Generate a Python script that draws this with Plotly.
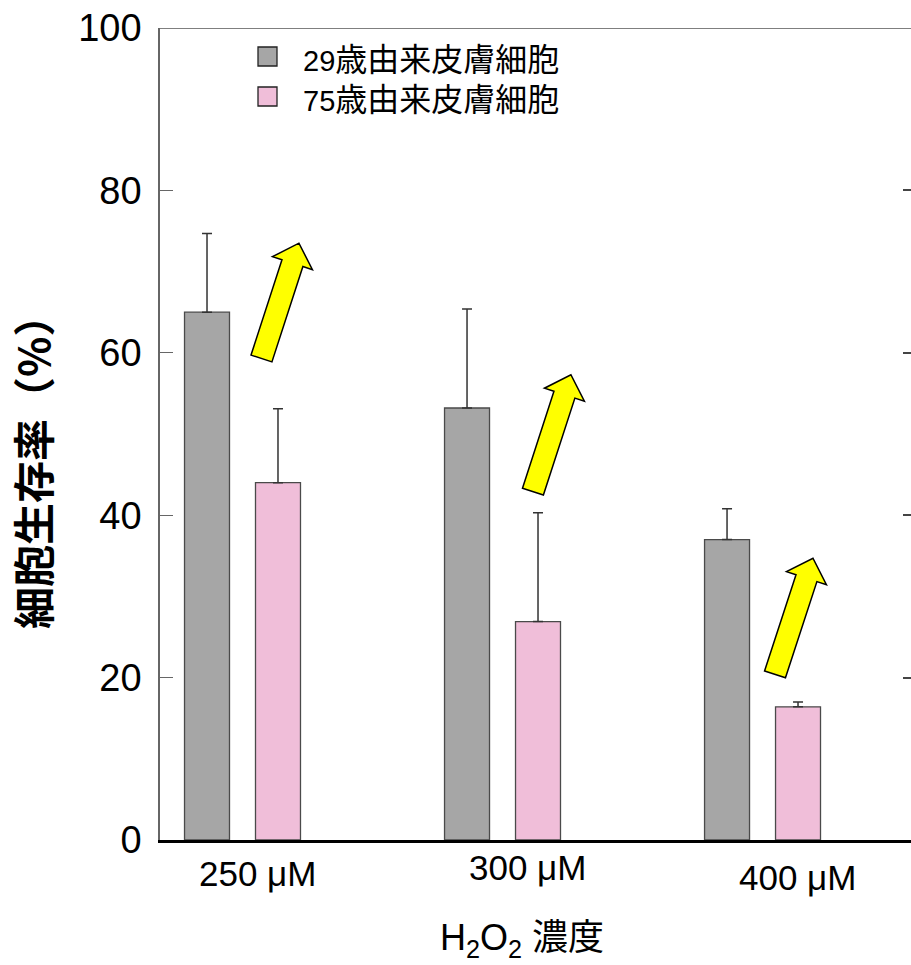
import plotly.graph_objects as go

# ---- data ----------------------------------------------------------------
concentrations = ["250 μM", "300 μM", "400 μM"]
series_ages = ["29", "75"]
series_suffix = "歳由来皮膚細胞"
young_mean = [65.0, 53.2, 37.0]
young_err = [9.7, 12.2, 3.8]
old_mean = [44.0, 26.9, 16.4]
old_err = [9.1, 13.4, 0.6]
y_ticks = [0, 20, 40, 60, 80, 100]

# arrows: (tail x, tail y, tip x, tip y) in data units (group index, %)
arrows = [
    (0.073, 59.3, 0.217, 73.5),
    (1.117, 42.9, 1.263, 57.3),
    (2.048, 20.4, 2.194, 34.7),
]

# ---- layout constants -----------------------------------------------------
W, H = 911, 965
ML, MR, MT, MB = 160, 0, 28, 125
PW, PH = W - ML - MR, H - MT - MB
X_RANGE = [-0.3173, 2.571]
Y_RANGE = [0, 100]
OFFSET = 0.1365
BAR_W = 0.173

GRAY = "#a6a6a6"
PINK = "#f0bed9"
EDGE = "#4a4a4a"
LATIN = "Liberation Sans, Arial, Noto Sans CJK JP"
NARROW = "Liberation Sans Narrow, Liberation Sans, Arial"
CJK = "Noto Sans CJK JP"

xs = list(range(len(concentrations)))

def to_px(x, y):
    px = (x - X_RANGE[0]) / (X_RANGE[1] - X_RANGE[0]) * PW
    py = (y - Y_RANGE[0]) / (Y_RANGE[1] - Y_RANGE[0]) * PH
    return px, py

def to_data(px, py):
    x = X_RANGE[0] + px / PW * (X_RANGE[1] - X_RANGE[0])
    y = Y_RANGE[0] + py / PH * (Y_RANGE[1] - Y_RANGE[0])
    return x, y

def paper(px, py):
    """absolute page pixel -> paper coordinates"""
    return (px - ML) / PW, (H - MB - py) / PH

def block_arrow(tx, ty, hx, hy, shaft=11, head=21, head_len=21):
    (ax, ay), (bx, by) = to_px(tx, ty), to_px(hx, hy)
    dx, dy = bx - ax, by - ay
    L = (dx * dx + dy * dy) ** 0.5
    ux, uy = dx / L, dy / L
    nx, ny = -uy, ux
    cx, cy = bx - ux * head_len, by - uy * head_len
    pts = [
        (ax + nx * shaft, ay + ny * shaft),
        (cx + nx * shaft, cy + ny * shaft),
        (cx + nx * head, cy + ny * head),
        (bx, by),
        (cx - nx * head, cy - ny * head),
        (cx - nx * shaft, cy - ny * shaft),
        (ax - nx * shaft, ay - ny * shaft),
    ]
    d = [to_data(*p) for p in pts]
    return "M " + " L ".join(f"{x:.4f},{y:.4f}" for x, y in d) + " Z"

fig = go.Figure()

for means, errs, color, sign in [(young_mean, young_err, GRAY, -1),
                                 (old_mean, old_err, PINK, 1)]:
    fig.add_trace(go.Bar(
        x=[x + sign * OFFSET for x in xs], y=means, width=BAR_W,
        marker=dict(color=color, line=dict(color=EDGE, width=1.3)),
        error_y=dict(type="data", array=errs, arrayminus=[0] * len(errs),
                     symmetric=False, color="#333333", thickness=1.5, width=5),
        showlegend=False,
    ))

# invisible trace carrying the mirrored right-hand ticks
fig.add_trace(go.Scatter(x=[xs[0]], y=[0], yaxis="y2", mode="markers",
                         marker=dict(opacity=0), showlegend=False,
                         hoverinfo="skip"))

shapes = []
for a in arrows:
    shapes.append(dict(type="path", xref="x", yref="y", path=block_arrow(*a),
                       fillcolor="#ffff00", line=dict(color="black", width=1.5),
                       layer="above"))
# top frame line
shapes.append(dict(type="line", xref="paper", yref="y", x0=0, x1=1,
                   y0=Y_RANGE[1], y1=Y_RANGE[1],
                   line=dict(color="#555555", width=1.5)))

annotations = []
# legend (swatches + labels)
for i, (age, color) in enumerate(zip(series_ages, [GRAY, PINK])):
    top = 47 + i * 40
    x0, y0 = paper(258, top)
    x1, y1 = paper(277, top + 19)
    shapes.append(dict(type="rect", xref="paper", yref="paper",
                       x0=x0, x1=x1, y0=y0, y1=y1, fillcolor=color,
                       line=dict(color="#222222", width=1.3)))
    tx, ty = paper(301, top + 10)
    label = (f"<span style='font-size:29px'>{age}</span>"
             f"<span style='font-family:{CJK};font-size:32px'>"
             f"{series_suffix}</span>")
    annotations.append(dict(xref="paper", yref="paper", x=tx, y=ty,
                            text=label, showarrow=False, xanchor="left",
                            yanchor="middle", height=38,
                            font=dict(family=LATIN, size=29, color="black")))

# concentration labels under each group
label_dx = [0.058, 0.097, 0.135]
label_py = [873, 867, 877]
for x, dx, py, lab in zip(xs, label_dx, label_py, concentrations):
    _, ly = paper(0, py)
    annotations.append(dict(xref="x", yref="paper", x=x + dx, y=ly,
                            text=lab, showarrow=False, xanchor="center",
                            yanchor="middle",
                            font=dict(family=NARROW, size=35, color="black")))

# x title
tx, ty = paper(522, 940)
annotations.append(dict(xref="paper", yref="paper", x=tx, y=ty,
                        text="H<sub>2</sub>O<sub>2</sub> 濃度", showarrow=False,
                        xanchor="center", yanchor="middle",
                        font=dict(family=NARROW + ", " + CJK,
                                  size=36, color="black")))
# y title
tx, ty = paper(31, 462)
annotations.append(dict(xref="paper", yref="paper", x=tx, y=ty,
                        text="<b>細胞生存率（%）</b>", showarrow=False,
                        textangle=-90, xanchor="center", yanchor="middle",
                        font=dict(family=CJK, size=42, color="black")))

fig.update_layout(
    width=W, height=H,
    margin=dict(l=ML, r=MR, t=MT, b=MB, pad=0),
    paper_bgcolor="white", plot_bgcolor="white",
    showlegend=False,
    xaxis=dict(range=X_RANGE, showgrid=False, zeroline=False,
               showticklabels=False, ticks="", showline=True,
               linecolor="black", linewidth=3, fixedrange=True),
    yaxis=dict(range=Y_RANGE, tickvals=y_ticks, showgrid=False,
               zeroline=False, ticks="inside", ticklen=13, tickwidth=1.3,
               tickcolor="#666666", showline=True, linecolor="#666666",
               linewidth=1.5, ticklabelstandoff=9,
               tickfont=dict(family=LATIN, size=38, color="black")),
    yaxis2=dict(range=Y_RANGE, tickvals=y_ticks, overlaying="y",
                side="right", showgrid=False, zeroline=False,
                ticks="inside", ticklen=8, tickwidth=1.5,
                tickcolor="#444444", showline=False,
                showticklabels=False),
    shapes=shapes, annotations=annotations,
)

fig.write_html("out.html")
